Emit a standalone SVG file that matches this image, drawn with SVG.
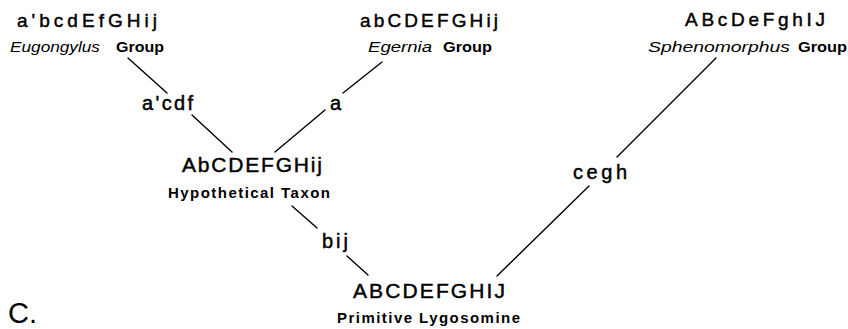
<svg xmlns="http://www.w3.org/2000/svg" width="848" height="329" viewBox="0 0 848 329">
<style>
text{font-family:"Liberation Sans",Arial,sans-serif;fill:#000}
.f{font-size:19px;stroke:#000;stroke-width:0.45}
.big{font-size:21px;stroke:#000;stroke-width:0.45}
.lab{font-size:15px;font-weight:bold}
.it{font-size:15px;font-style:italic}
.br{font-size:20px;stroke:#000;stroke-width:0.45}
.conn line{stroke:#000;stroke-width:1.4;stroke-linecap:round}
</style>
<rect width="848" height="329" fill="#fff"/>
<g class="conn" id="connectors">
<line x1="128" y1="58" x2="167" y2="93"/>
<line x1="192" y1="115" x2="232" y2="152"/>
<line x1="382" y1="62" x2="343" y2="93"/>
<line x1="325" y1="110" x2="275" y2="152"/>
<line x1="292" y1="206" x2="317" y2="228"/>
<line x1="347" y1="256" x2="368" y2="275"/>
<line x1="716" y1="58" x2="617" y2="157"/>
<line x1="589" y1="186" x2="497" y2="276"/>
</g>
<g id="eugongylus">
<text class="f" x="17" y="27" textLength="140" lengthAdjust="spacing">a'bcdEfGHij</text>
<text class="it" x="10" y="52" textLength="90" lengthAdjust="spacingAndGlyphs">Eugongylus</text>
<text class="lab" x="116" y="52" textLength="48" lengthAdjust="spacingAndGlyphs">Group</text>
</g>
<g id="egernia">
<text class="f" x="360" y="27" textLength="138" lengthAdjust="spacing">abCDEFGHij</text>
<text class="it" x="368" y="52" textLength="64" lengthAdjust="spacingAndGlyphs">Egernia</text>
<text class="lab" x="443" y="52" textLength="49" lengthAdjust="spacingAndGlyphs">Group</text>
</g>
<g id="sphenomorphus">
<text class="f" x="685" y="26" textLength="140" lengthAdjust="spacing">ABcDeFghIJ</text>
<text class="it" x="648" y="52" textLength="142" lengthAdjust="spacingAndGlyphs">Sphenomorphus</text>
<text class="lab" x="798" y="52" textLength="49" lengthAdjust="spacingAndGlyphs">Group</text>
</g>
<g id="branch-acdf"><text class="br" x="142" y="110" textLength="51" lengthAdjust="spacing">a'cdf</text></g>
<g id="branch-a"><text class="br" x="330" y="110">a</text></g>
<g id="hypothetical">
<text class="big" x="182" y="172" textLength="140" lengthAdjust="spacing">AbCDEFGHij</text>
<text class="lab" x="168" y="198" textLength="162" lengthAdjust="spacing">Hypothetical Taxon</text>
</g>
<g id="branch-bij"><text class="br" x="322" y="248" textLength="26" lengthAdjust="spacing">bij</text></g>
<g id="branch-cegh"><text class="br" x="573" y="179" textLength="54" lengthAdjust="spacing">cegh</text></g>
<g id="primitive">
<text class="big" x="353" y="298" textLength="152" lengthAdjust="spacing">ABCDEFGHIJ</text>
<text class="lab" x="337" y="323" textLength="183" lengthAdjust="spacing">Primitive Lygosomine</text>
</g>
<g id="panel-label"><text x="8" y="323" style="font-size:29px">C.</text></g>
</svg>
